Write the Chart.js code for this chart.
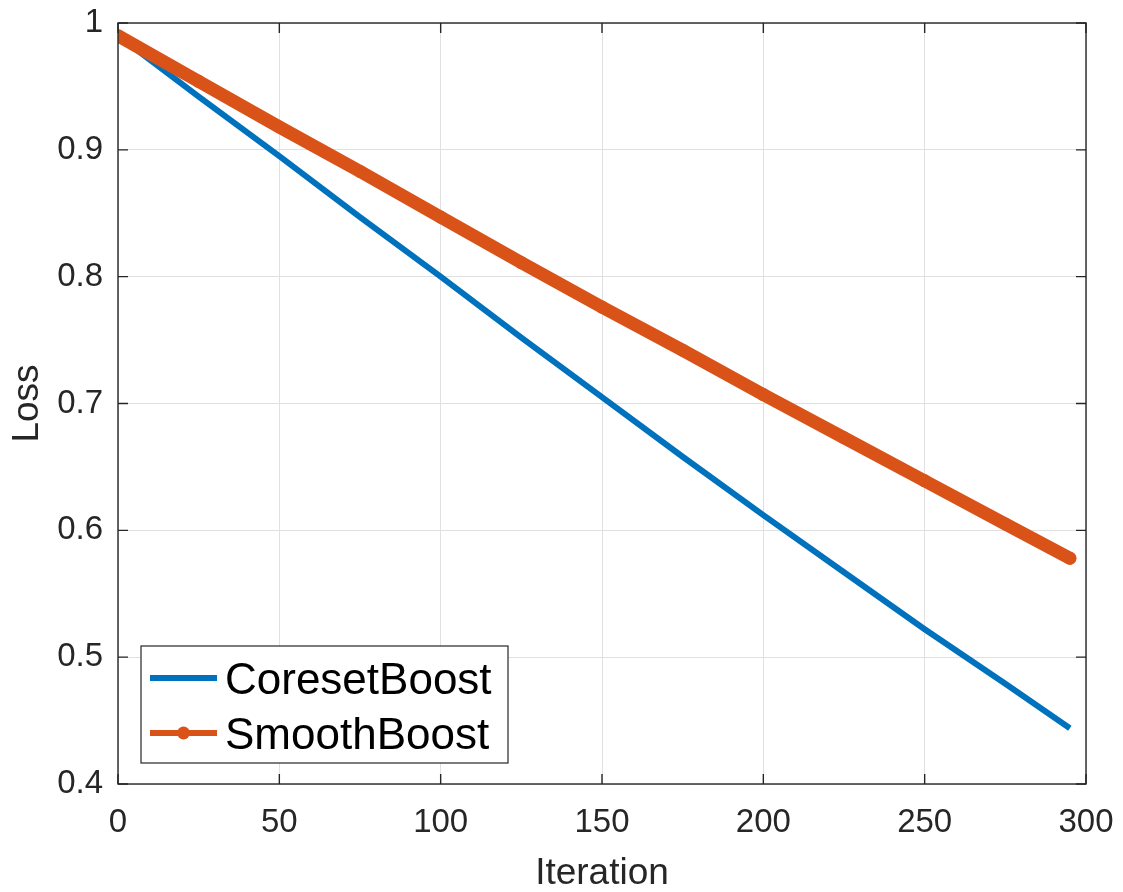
<!DOCTYPE html>
<html>
<head>
<meta charset="utf-8">
<style>
  html, body { margin: 0; padding: 0; background: #ffffff; }
  #wrap { width: 1123px; height: 892px; }
</style>
<script src="https://cdn.jsdelivr.net/npm/chart.js@4.4.1/dist/chart.umd.min.js"></script>
</head>
<body>
<div id="wrap"><canvas id="c" width="1123" height="892"></canvas></div>
<script>
// ---- data ----
const iterations      = [0, 25, 50, 75, 100, 125, 150, 175, 200, 225, 250, 275, 295];
const coresetBoost    = [0.990, 0.942, 0.895, 0.847, 0.800, 0.752, 0.705, 0.658, 0.612, 0.567, 0.522, 0.479, 0.444];
const smoothBoost     = [0.990, 0.954, 0.918, 0.883, 0.847, 0.811, 0.776, 0.742, 0.707, 0.673, 0.639, 0.605, 0.578];
const seriesNames     = ['CoresetBoost', 'SmoothBoost'];
const xTickValues     = [0, 50, 100, 150, 200, 250, 300];
const yTickValues     = [0.4, 0.5, 0.6, 0.7, 0.8, 0.9, 1];
const xAxisTitle      = 'Iteration';
const yAxisTitle      = 'Loss';

const BLUE = '#0072BD';
const ORANGE = '#D95319';
const AXIS = '#262626';
const GRID = '#e0e0e0';
const FONT = "'Liberation Sans', Arial, Helvetica, sans-serif";

const toXY = (xs, ys) => xs.map((x, i) => ({ x: x, y: ys[i] }));

function zeroPad(scale) {
  scale.paddingTop = 0; scale.paddingBottom = 0;
  scale.paddingLeft = 0; scale.paddingRight = 0;
}

// frame + inward ticks (MATLAB box style)
const framePlugin = {
  id: 'frame',
  afterDatasetsDraw(chart) {
    const { ctx, chartArea: a, scales } = chart;
    ctx.save();
    ctx.strokeStyle = AXIS;
    ctx.lineWidth = 1.4;
    const tl = 10;
    ctx.beginPath();
    xTickValues.forEach(v => {
      const px = scales.x.getPixelForValue(v);
      ctx.moveTo(px, a.bottom); ctx.lineTo(px, a.bottom - tl);
      ctx.moveTo(px, a.top); ctx.lineTo(px, a.top + tl);
    });
    yTickValues.forEach(v => {
      const py = scales.y.getPixelForValue(v);
      ctx.moveTo(a.left, py); ctx.lineTo(a.left + tl, py);
      ctx.moveTo(a.right, py); ctx.lineTo(a.right - tl, py);
    });
    ctx.stroke();
    ctx.strokeRect(a.left, a.top, a.right - a.left, a.bottom - a.top);
    ctx.restore();
  }
};

// legend box inside the axes, lower-left (MATLAB style)
const boxLegendPlugin = {
  id: 'boxLegend',
  afterDraw(chart) {
    const { ctx } = chart;
    const ds = chart.data.datasets;
    const order = [1, 0]; // CoresetBoost, SmoothBoost
    const bx = 141, by = 646, bw = 367, bh = 117;
    ctx.save();
    ctx.fillStyle = '#ffffff';
    ctx.fillRect(bx, by, bw, bh);
    ctx.strokeStyle = AXIS;
    ctx.lineWidth = 1.2;
    ctx.strokeRect(bx, by, bw, bh);
    const rowsY = [678, 733];
    order.forEach((di, r) => {
      const d = ds[di];
      const y = rowsY[r];
      ctx.strokeStyle = d.borderColor;
      ctx.lineWidth = 6;
      ctx.lineCap = 'butt';
      ctx.beginPath();
      ctx.moveTo(150, y); ctx.lineTo(217, y);
      ctx.stroke();
      if (d.legendMarker) {
        ctx.fillStyle = d.borderColor;
        ctx.beginPath();
        ctx.arc(183.5, y, 6.5, 0, Math.PI * 2);
        ctx.fill();
      }
      ctx.fillStyle = '#000000';
      ctx.font = '44px ' + FONT;
      ctx.textBaseline = 'alphabetic';
      ctx.textAlign = 'left';
      ctx.fillText(d.label, 225, y + 16);
    });
    ctx.restore();
  }
};

new Chart(document.getElementById('c'), {
  type: 'line',
  data: {
    datasets: [
      {
        label: seriesNames[1],
        data: toXY(iterations, smoothBoost),
        borderColor: ORANGE,
        backgroundColor: ORANGE,
        borderWidth: 13,
        borderCapStyle: 'round',
        borderJoinStyle: 'round',
        pointRadius: 6.5,
        pointBorderWidth: 0,
        pointBackgroundColor: ORANGE,
        tension: 0,
        order: 0,
        legendMarker: true
      },
      {
        label: seriesNames[0],
        data: toXY(iterations, coresetBoost),
        borderColor: BLUE,
        backgroundColor: BLUE,
        borderWidth: 6,
        borderCapStyle: 'butt',
        borderJoinStyle: 'round',
        pointRadius: 0,
        tension: 0,
        order: 1,
        legendMarker: false
      }
    ]
  },
  options: {
    responsive: false,
    animation: false,
    devicePixelRatio: 1,
    layout: { padding: { top: 23, right: 37, left: 0, bottom: 0 } },
    plugins: {
      legend: { display: false },
      tooltip: { enabled: false }
    },
    scales: {
      x: {
        type: 'linear',
        min: 0, max: 300,
        afterFit(scale) { scale.height = 108; zeroPad(scale); },
        afterBuildTicks(scale) { scale.ticks = xTickValues.map(v => ({ value: v })); },
        grid: { color: GRID, lineWidth: 1, drawTicks: false },
        border: { display: false },
        ticks: {
          color: AXIS,
          font: { family: FONT, size: 33 },
          padding: 19,
          maxRotation: 0,
          callback: v => String(v)
        },
        title: {
          display: true,
          text: xAxisTitle,
          color: AXIS,
          font: { family: FONT, size: 37, lineHeight: 1.0 },
          padding: { top: 0, bottom: 0 }
        }
      },
      y: {
        type: 'linear',
        min: 0.4, max: 1,
        afterFit(scale) { scale.width = 118; zeroPad(scale); },
        afterBuildTicks(scale) { scale.ticks = yTickValues.map(v => ({ value: v })); },
        grid: { color: GRID, lineWidth: 1, drawTicks: false },
        border: { display: false },
        ticks: {
          color: AXIS,
          font: { family: FONT, size: 33 },
          padding: 15,
          callback: v => String(Math.round(v * 10) / 10)
        },
        title: {
          display: true,
          text: yAxisTitle,
          color: AXIS,
          font: { family: FONT, size: 37 },
          padding: { top: 6, bottom: 0 }
        }
      }
    }
  },
  plugins: [framePlugin, boxLegendPlugin]
});
</script>
</body>
</html>
